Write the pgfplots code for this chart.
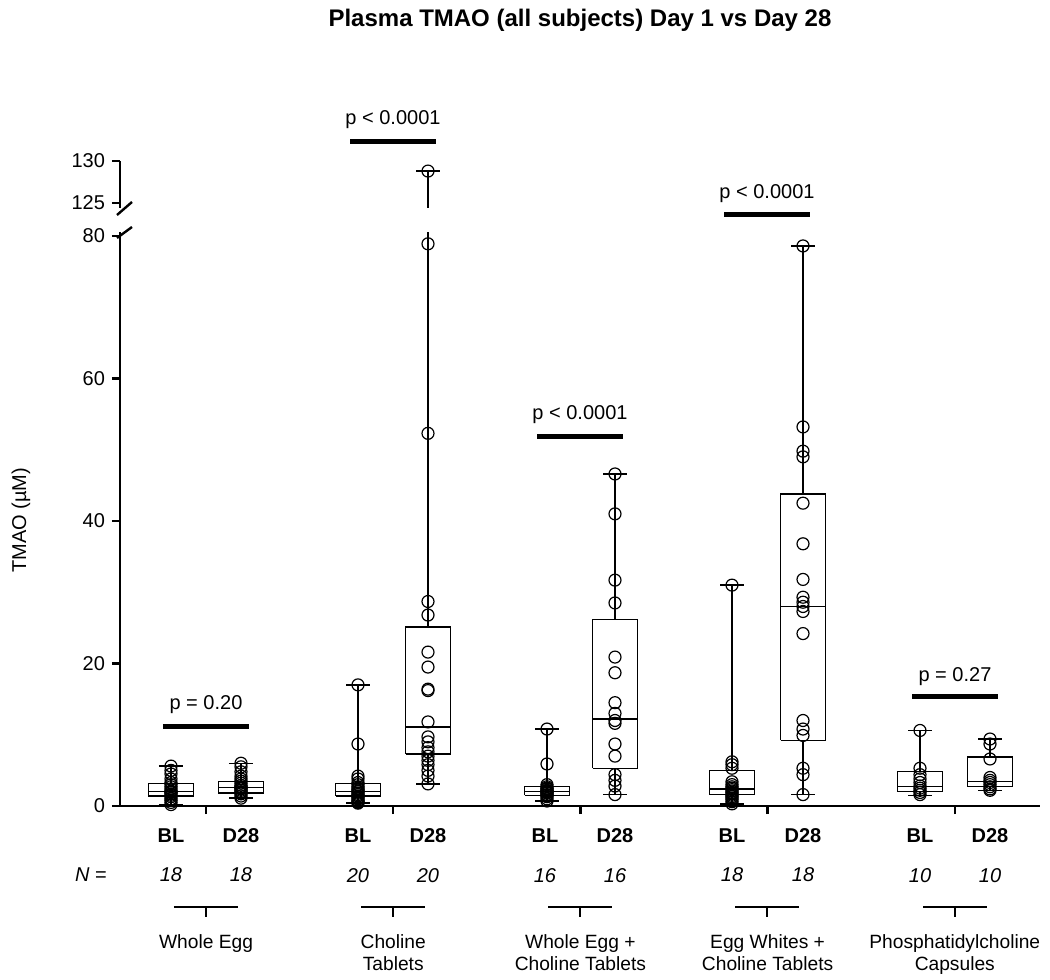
\documentclass[border=0pt]{standalone}
\usepackage{pgfplots}
\pgfplotsset{compat=1.18}
\usepackage{fontspec}
\setmainfont{Liberation Sans}

\pgfplotsset{
 pts/.style={only marks, mark=o, mark size=3pt, mark options={line width=0.6pt, black}},
 bx/.style={black, line width=0.7pt, no marks, line join=miter},
 pbar/.style={black, line width=2.5pt},
 brk/.style={black, line width=1pt},
}
\newcommand{\tf}{\fontsize{10}{12}\selectfont}
\newcommand{\cf}{\fontsize{9.6}{11}\selectfont}

\begin{document}
\begin{tikzpicture}
\useasboundingbox (-60pt,-87pt) rectangle (465pt,403pt);
\begin{axis}[at={(0,0)}, anchor=south west, scale only axis,
  width=460pt, height=287pt,
  xmin=120, xmax=1040, ymin=0, ymax=80.56,
  axis x line=bottom, axis y line=left,
  axis line style={-, line width=1.2pt},
  clip=false, unbounded coords=jump,
  xtick={206,393.2,580.4,767.6,954.8}, xticklabels={,,,,},
  ytick={0,20,40,60,80},
  tick align=outside, major tick length=4pt,
  tick style={line width=1.2pt, black},
  ticklabel style={font=\tf},
  /pgf/number format/assume math mode=true,
]
% ---------- boxes: box, median, whiskers, caps ----------
% Whole Egg BL (0.2, 1.4, 2.0, 3.2, 5.6)
\addplot[bx] coordinates {(148.5,1.4)(193.5,1.4)(193.5,3.2)(148.5,3.2)(148.5,1.4) (nan,nan) (148.5,2.0)(193.5,2.0) (nan,nan) (171,3.2)(171,5.6) (nan,nan) (159,5.6)(183,5.6) (nan,nan) (171,1.4)(171,0.2) (nan,nan) (159,0.2)(183,0.2)};
% Whole Egg D28 (1.1, 1.8, 2.6, 3.4, 6.0)
\addplot[bx] coordinates {(218.5,1.8)(263.5,1.8)(263.5,3.4)(218.5,3.4)(218.5,1.8) (nan,nan) (218.5,2.6)(263.5,2.6) (nan,nan) (241,3.4)(241,6.0) (nan,nan) (229,6.0)(253,6.0) (nan,nan) (241,1.8)(241,1.1) (nan,nan) (229,1.1)(253,1.1)};
% Choline Tablets BL (0.4, 1.4, 2.0, 3.2, 17.0)
\addplot[bx] coordinates {(335.5,1.4)(380.5,1.4)(380.5,3.2)(335.5,3.2)(335.5,1.4) (nan,nan) (335.5,2.0)(380.5,2.0) (nan,nan) (358,3.2)(358,17.0) (nan,nan) (346,17.0)(370,17.0) (nan,nan) (358,1.4)(358,0.4) (nan,nan) (346,0.4)(370,0.4)};
% Choline Tablets D28 (3.1, 7.3, 11.1, 25.1, 128.8 -> broken)
\addplot[bx] coordinates {(405.5,7.3)(450.5,7.3)(450.5,25.1)(405.5,25.1)(405.5,7.3) (nan,nan) (405.5,11.1)(450.5,11.1) (nan,nan) (428,25.1)(428,80.56) (nan,nan) (428,7.3)(428,3.1) (nan,nan) (416,3.1)(440,3.1)};
% Whole Egg + Choline BL (0.7, 1.5, 2.0, 2.7, 10.8)
\addplot[bx] coordinates {(524.5,1.5)(569.5,1.5)(569.5,2.7)(524.5,2.7)(524.5,1.5) (nan,nan) (524.5,2.0)(569.5,2.0) (nan,nan) (547,2.7)(547,10.8) (nan,nan) (535,10.8)(559,10.8) (nan,nan) (547,1.5)(547,0.7) (nan,nan) (535,0.7)(559,0.7)};
% Whole Egg + Choline D28 (1.6, 5.3, 12.2, 26.2, 46.6)
\addplot[bx] coordinates {(592.5,5.3)(637.5,5.3)(637.5,26.2)(592.5,26.2)(592.5,5.3) (nan,nan) (592.5,12.2)(637.5,12.2) (nan,nan) (615,26.2)(615,46.6) (nan,nan) (603,46.6)(627,46.6) (nan,nan) (615,5.3)(615,1.6) (nan,nan) (603,1.6)(627,1.6)};
% Egg Whites + Choline BL (0.3, 1.6, 2.4, 5.0, 31.0)
\addplot[bx] coordinates {(709.5,1.6)(754.5,1.6)(754.5,5.0)(709.5,5.0)(709.5,1.6) (nan,nan) (709.5,2.4)(754.5,2.4) (nan,nan) (732,5.0)(732,31.0) (nan,nan) (720,31.0)(744,31.0) (nan,nan) (732,1.6)(732,0.3) (nan,nan) (720,0.3)(744,0.3)};
% Egg Whites + Choline D28 (1.6, 9.2, 28.0, 43.8, 78.6)
\addplot[bx] coordinates {(780.5,9.2)(825.5,9.2)(825.5,43.8)(780.5,43.8)(780.5,9.2) (nan,nan) (780.5,28.0)(825.5,28.0) (nan,nan) (803,43.8)(803,78.6) (nan,nan) (791,78.6)(815,78.6) (nan,nan) (803,9.2)(803,1.6) (nan,nan) (791,1.6)(815,1.6)};
% Phosphatidylcholine BL (1.5, 2.0, 2.7, 4.8, 10.6)
\addplot[bx] coordinates {(897.5,2.0)(942.5,2.0)(942.5,4.8)(897.5,4.8)(897.5,2.0) (nan,nan) (897.5,2.7)(942.5,2.7) (nan,nan) (920,4.8)(920,10.6) (nan,nan) (908,10.6)(932,10.6) (nan,nan) (920,2.0)(920,1.5) (nan,nan) (908,1.5)(932,1.5)};
% Phosphatidylcholine D28 (2.2, 2.7, 3.4, 6.9, 9.4)
\addplot[bx] coordinates {(967.5,2.7)(1012.5,2.7)(1012.5,6.9)(967.5,6.9)(967.5,2.7) (nan,nan) (967.5,3.4)(1012.5,3.4) (nan,nan) (990,6.9)(990,9.4) (nan,nan) (978,9.4)(1002,9.4) (nan,nan) (990,2.7)(990,2.2) (nan,nan) (978,2.2)(1002,2.2)};
% ---------- points ----------
\addplot[pts] coordinates {(171,0.2)(171,0.5)(171,0.8)(171,1.0)(171,1.3)(171,1.5)(171,1.7)(171,1.9)(171,2.0)(171,2.1)(171,2.4)(171,2.7)(171,3.0)(171,3.3)(171,3.8)(171,4.5)(171,5.0)(171,5.6)};
\addplot[pts] coordinates {(241,1.1)(241,1.4)(241,1.7)(241,1.9)(241,2.0)(241,2.2)(241,2.4)(241,2.5)(241,2.6)(241,2.7)(241,2.9)(241,3.2)(241,3.5)(241,3.8)(241,4.2)(241,4.8)(241,5.5)(241,6.0)};
\addplot[pts] coordinates {(358,0.4)(358,0.5)(358,0.6)(358,0.8)(358,1.0)(358,1.2)(358,1.4)(358,1.6)(358,1.8)(358,2.0)(358,2.1)(358,2.3)(358,2.5)(358,2.7)(358,3.0)(358,3.3)(358,3.8)(358,4.2)(358,8.7)(358,17.0)};
\addplot[pts] coordinates {(428,3.1)(428,4.2)(428,5.0)(428,5.8)(428,6.4)(428,7.0)(428,7.6)(428,8.2)(428,9.0)(428,9.7)(428,11.8)(428,16.2)(428,16.4)(428,19.5)(428,21.6)(428,26.8)(428,28.7)(428,52.3)(428,78.9)};
\addplot[pts] coordinates {(547,0.7)(547,1.0)(547,1.3)(547,1.5)(547,1.6)(547,1.8)(547,1.9)(547,2.0)(547,2.1)(547,2.2)(547,2.4)(547,2.5)(547,2.7)(547,3.0)(547,5.9)(547,10.8)};
\addplot[pts] coordinates {(615,1.6)(615,2.8)(615,3.6)(615,4.4)(615,7.0)(615,8.7)(615,11.6)(615,12.0)(615,13.0)(615,14.5)(615,18.7)(615,20.9)(615,28.5)(615,31.7)(615,41.0)(615,46.6)};
\addplot[pts] coordinates {(732,0.3)(732,0.6)(732,0.9)(732,1.1)(732,1.3)(732,1.5)(732,1.7)(732,1.9)(732,2.1)(732,2.3)(732,2.5)(732,2.7)(732,3.0)(732,3.4)(732,5.3)(732,5.8)(732,6.2)(732,31.0)};
\addplot[pts] coordinates {(803,1.6)(803,4.4)(803,5.3)(803,9.9)(803,10.8)(803,12.0)(803,24.2)(803,27.3)(803,28.0)(803,28.6)(803,29.3)(803,31.8)(803,36.8)(803,42.5)(803,49.0)(803,49.8)(803,53.2)(803,78.6)};
\addplot[pts] coordinates {(920,1.6)(920,1.9)(920,2.2)(920,2.5)(920,2.8)(920,3.3)(920,3.8)(920,4.4)(920,5.3)(920,10.6)};
\addplot[pts] coordinates {(990,2.2)(990,2.4)(990,2.7)(990,3.0)(990,3.3)(990,3.6)(990,4.0)(990,6.6)(990,8.7)(990,9.4)};
% ---------- p-value bars ----------
\addplot[pbar] coordinates {(163,11.1)(249,11.1)};
\addplot[pbar] coordinates {(350,93.2)(436,93.2)};
\addplot[pbar] coordinates {(537,51.8)(623,51.8)};
\addplot[pbar] coordinates {(724,83.0)(810,83.0)};
\addplot[pbar] coordinates {(912,15.3)(998,15.3)};
\node[font=\tf] at (axis cs:206,14.3) {p = 0.20};
\node[font=\tf] at (axis cs:393,96.4) {p < 0.0001};
\node[font=\tf] at (axis cs:580,55.0) {p < 0.0001};
\node[font=\tf] at (axis cs:767,86.0) {p < 0.0001};
\node[font=\tf] at (axis cs:955,18.2) {p = 0.27};
% ---------- group brackets ----------
\addplot[brk] coordinates {(174,-14.18)(238,-14.18)};
\addplot[brk] coordinates {(206,-14.18)(206,-15.6)};
\addplot[brk] coordinates {(361,-14.18)(425,-14.18)};
\addplot[brk] coordinates {(393,-14.18)(393,-15.6)};
\addplot[brk] coordinates {(548,-14.18)(612,-14.18)};
\addplot[brk] coordinates {(580,-14.18)(580,-15.6)};
\addplot[brk] coordinates {(735,-14.18)(799,-14.18)};
\addplot[brk] coordinates {(767,-14.18)(767,-15.6)};
\addplot[brk] coordinates {(923,-14.18)(987,-14.18)};
\addplot[brk] coordinates {(955,-14.18)(955,-15.6)};
% ---------- labels ----------
\node[font=\tf\bfseries] at (axis cs:171,-4.1) {BL};
\node[font=\tf\bfseries] at (axis cs:241,-4.1) {D28};
\node[font=\tf\bfseries] at (axis cs:358,-4.1) {BL};
\node[font=\tf\bfseries] at (axis cs:428,-4.1) {D28};
\node[font=\tf\bfseries] at (axis cs:545,-4.1) {BL};
\node[font=\tf\bfseries] at (axis cs:615,-4.1) {D28};
\node[font=\tf\bfseries] at (axis cs:732,-4.1) {BL};
\node[font=\tf\bfseries] at (axis cs:803,-4.1) {D28};
\node[font=\tf\bfseries] at (axis cs:920,-4.1) {BL};
\node[font=\tf\bfseries] at (axis cs:990,-4.1) {D28};
\node[font=\tf\itshape] at (axis cs:171,-9.7) {18};
\node[font=\tf\itshape] at (axis cs:241,-9.7) {18};
\node[font=\tf\itshape] at (axis cs:358,-9.7) {20};
\node[font=\tf\itshape] at (axis cs:428,-9.7) {20};
\node[font=\tf\itshape] at (axis cs:545,-9.7) {16};
\node[font=\tf\itshape] at (axis cs:615,-9.7) {16};
\node[font=\tf\itshape] at (axis cs:732,-9.7) {18};
\node[font=\tf\itshape] at (axis cs:803,-9.7) {18};
\node[font=\tf\itshape] at (axis cs:920,-9.7) {10};
\node[font=\tf\itshape] at (axis cs:990,-9.7) {10};
\node[font=\tf] at (axis cs:91,-9.7) {\textit{N} =};
\node[font=\cf, align=center, anchor=north] at (axis cs:206,-17.0) {Whole Egg};
\node[font=\cf, align=center, anchor=north] at (axis cs:393.2,-17.0) {Choline\\Tablets};
\node[font=\cf, align=center, anchor=north] at (axis cs:580.4,-17.0) {Whole Egg +\\Choline Tablets};
\node[font=\cf, align=center, anchor=north] at (axis cs:767.6,-17.0) {Egg Whites +\\Choline Tablets};
\node[font=\cf, align=center, anchor=north] at (axis cs:954.8,-17.0) {Phosphatidylcholine\\Capsules};
\node[font=\tf, rotate=90] at (axis cs:21,40.1) {TMAO (µM)};
\node[font=\fontsize{12}{14}\selectfont\bfseries] at (axis cs:580,110.3) {Plasma TMAO (all subjects) Day 1 vs Day 28};
\end{axis}
\begin{axis}[at={(0,299pt)}, anchor=south west, scale only axis,
  width=460pt, height=23.5pt,
  xmin=120, xmax=1040, ymin=124.4, ymax=130,
  axis y line=left, axis x line=none,
  axis line style={-, line width=1.2pt},
  clip=false,
  ytick={125,130},
  tick align=outside, major tick length=4pt,
  tick style={line width=1.2pt, black},
  ticklabel style={font=\tf},
  /pgf/number format/assume math mode=true,
]
\addplot[bx] coordinates {(428,128.8)(428,124.4)};
\addplot[bx] coordinates {(416,128.8)(440,128.8)};
\addplot[pts] coordinates {(428,128.8)};
\end{axis}
% axis break marks
\draw[line width=1.2pt] (-1.5pt,295.5pt) -- (6pt,302pt);
\draw[line width=1.2pt] (-1.5pt,284pt) -- (6pt,289.5pt);
\end{tikzpicture}
\end{document}
